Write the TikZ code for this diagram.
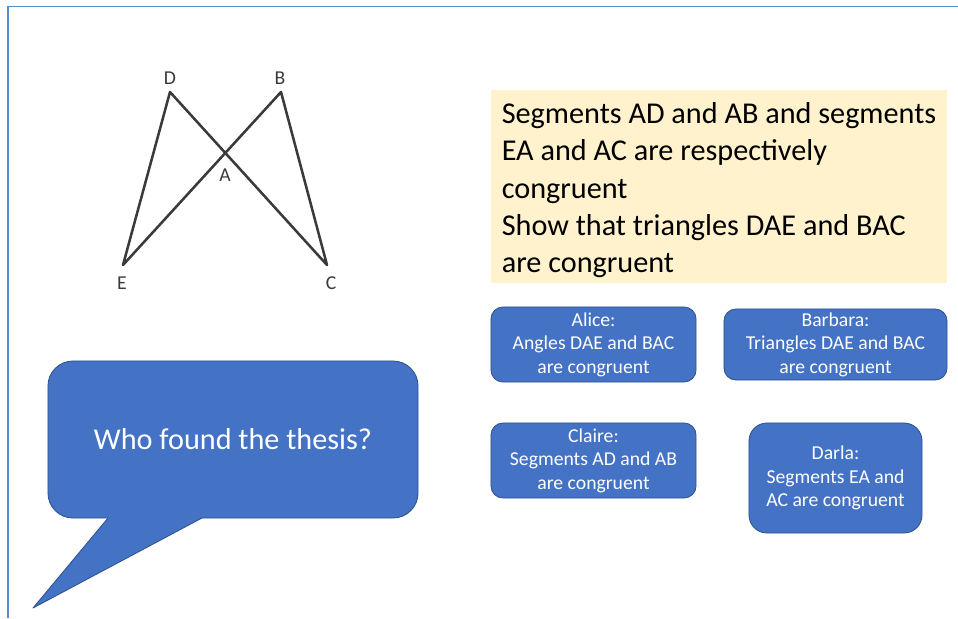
\documentclass[tikz,border=0pt]{standalone}
\usepackage{fontspec}
\setmainfont{Carlito}

\definecolor{slideblue}{HTML}{4472C4}
\definecolor{slideedge}{HTML}{2F528F}
\definecolor{notecream}{HTML}{FFF2CC}
\definecolor{figgray}{HTML}{3A3A3A}
\definecolor{frameblue}{HTML}{5A8AD2}

\tikzset{
  answer/.style={draw=slideedge, line width=0.6pt, fill=slideblue, text=white,
    rounded corners=0.3cm, align=center, inner sep=0pt,
    font=\fontsize{14}{16.7}\selectfont},
  vertex/.style={text=figgray, inner sep=0pt, font=\fontsize{14}{16}\selectfont},
}

\begin{document}
\begin{tikzpicture}[x=0.025cm, y=-0.025cm]
	\useasboundingbox (0,0) rectangle (958,618);
	\draw[frameblue, line width=1pt] (8,618) -- (8,6.5) -- (958,6.5);
	
	% the two triangles
	\coordinate (D) at (170,92); \coordinate (B) at (281,92);
	\coordinate (E) at (123,265); \coordinate (C) at (327,265);
	\coordinate (A) at (intersection of D--C and B--E);
	\draw[figgray, line width=1.8pt, line join=round] (E) -- (D) -- (C) -- (B) -- cycle;
	\node[vertex] (labD) at (170,78) {D}; \node[vertex] (labB) at (280,78) {B};
	\node[vertex] (labA) at (225,175) {A};
	\node[vertex] (labE) at (122,283) {E}; \node[vertex] (labC) at (331,283) {C};
	
	% the task
	\node[fill=notecream, minimum width=11.4cm, minimum height=4.825cm, inner sep=0pt] (task) at (719,186.5) {};
	\node[align=left, inner sep=0pt, font=\fontsize{21.5}{26.5}\selectfont] (tasktext) at ([yshift=-0.09cm]task.center)
		{Segments AD and AB and segments\\EA and AC are respectively\\congruent\\Show that triangles DAE and BAC\\are congruent};
	
	% the answers
	\node[answer, minimum width=5.125cm, minimum height=1.875cm] (alice) at (593.5,344.5)
		{Alice:\\Angles DAE and BAC\\are congruent};
	\node[answer, minimum width=5.575cm, minimum height=1.775cm] (barbara) at (835.5,344.5)
		{Barbara:\\Triangles DAE and BAC\\are congruent};
	\node[answer, minimum width=5.125cm, minimum height=1.875cm] (claire) at (593.5,460.5)
		{Claire:\\Segments AD and AB\\are congruent};
	\node[answer, rounded corners=0.45cm, minimum width=4.325cm, minimum height=2.75cm] (darla) at (835.5,478)
		{Darla:\\Segments EA and\\AC are congruent};
	
	% speech bubble
	\node[fill=slideblue, draw=slideedge, line width=0.6pt, rounded corners=0.625cm, text=white,
		minimum width=9.25cm, minimum height=3.925cm, font=\fontsize{21.5}{26}\selectfont] (bubble) at (233,439.5)
		{Who found the thesis?};
	\coordinate (tailL) at (108,518); \coordinate (tailR) at (202,518); \coordinate (tip) at (33,608);
	\fill[slideblue] (tailL) -- (tip) -- (tailR) -- ([yshift=0.1cm]tailR) -- ([yshift=0.1cm]tailL) -- cycle;
	\draw[slideedge, line width=0.6pt, line join=round] (tailL) -- (tip) -- (tailR);
\end{tikzpicture}
\end{document}
